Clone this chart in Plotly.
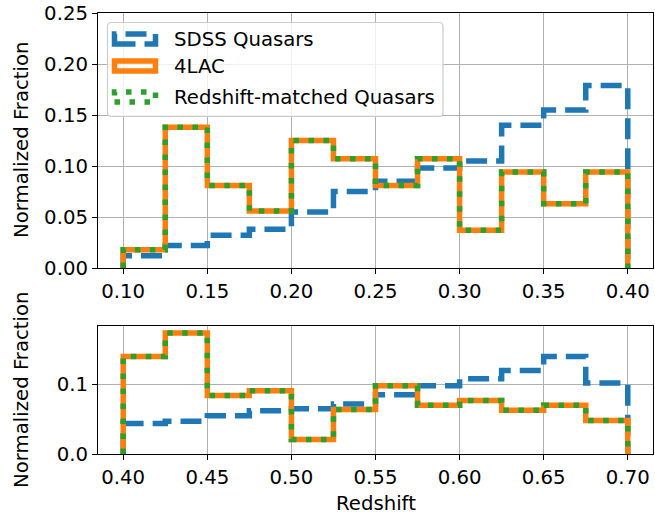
import plotly.graph_objects as go

# ---- data: normalized redshift histograms (bin width 0.025) ----
top_edges = [0.100, 0.125, 0.150, 0.175, 0.200, 0.225, 0.250,
             0.275, 0.300, 0.325, 0.350, 0.375, 0.400]
top_sdss = [0.012, 0.022, 0.032, 0.038, 0.055, 0.075,
            0.085, 0.098, 0.105, 0.140, 0.155, 0.179]
top_4lac = [0.018, 0.138, 0.081, 0.056, 0.125, 0.107,
            0.081, 0.107, 0.037, 0.094, 0.063, 0.094]
top_matched = [0.018, 0.138, 0.081, 0.056, 0.125, 0.107,
               0.081, 0.107, 0.037, 0.094, 0.063, 0.094]

bottom_edges = [0.400, 0.425, 0.450, 0.475, 0.500, 0.525, 0.550,
                0.575, 0.600, 0.625, 0.650, 0.675, 0.700]
bottom_sdss = [0.044, 0.047, 0.055, 0.062, 0.065, 0.072,
               0.085, 0.098, 0.108, 0.120, 0.140, 0.102]
bottom_4lac = [0.140, 0.174, 0.084, 0.091, 0.021, 0.064,
               0.098, 0.070, 0.077, 0.063, 0.070, 0.048]
bottom_matched = [0.140, 0.174, 0.084, 0.091, 0.021, 0.064,
                  0.098, 0.070, 0.077, 0.063, 0.070, 0.048]

top_xticks = [0.10, 0.15, 0.20, 0.25, 0.30, 0.35, 0.40]
top_yticks = [0.00, 0.05, 0.10, 0.15, 0.20, 0.25]
bottom_xticks = [0.40, 0.45, 0.50, 0.55, 0.60, 0.65, 0.70]
bottom_yticks = [0.0, 0.1]

series_names = ["SDSS Quasars", "4LAC", "Redshift-matched Quasars"]

# ---- styling ----
FONT = "DejaVu Sans"
FS = 19.7
BLUE, ORANGE, GREEN = "#1f77b4", "#ff7f0e", "#2ca02c"
LW = 5.5
STYLES = [
    dict(color=BLUE, width=LW, dash="21px,9px"),
    dict(color=ORANGE, width=LW, dash="solid"),
    dict(color=GREEN, width=LW, dash="5.5px,9.5px"),
]

W_FIG, H_FIG = 655, 514
L, R, T, B = 98, 2, 13, 60
PW = W_FIG - L - R
PH = H_FIG - T - B


def px_x(px):
    return (px - L) / PW


def px_y(py):
    return (H_FIG - B - py) / PH


def step_xy(edges, vals):
    """Outline of a step histogram starting and ending at zero."""
    xs = [edges[0]] + list(edges[:-1]) + [edges[-1], edges[-1]]
    ys = [0] + list(vals) + [vals[-1], 0]
    return xs, ys


fig = go.Figure()

panels = [
    ("x", "y", top_edges, [top_sdss, top_4lac, top_matched]),
    ("x2", "y2", bottom_edges, [bottom_sdss, bottom_4lac, bottom_matched]),
]
for xa, ya, edges, series in panels:
    for name, vals, style in zip(series_names, series, STYLES):
        xs, ys = step_xy(edges, vals)
        fig.add_trace(go.Scatter(
            x=xs, y=ys, mode="lines", line_shape="hv", line=style,
            name=name, showlegend=False, xaxis=xa, yaxis=ya,
            hoverinfo="skip",
        ))

axis_common = dict(
    showline=True, mirror=True, linecolor="black", linewidth=1.2,
    ticks="outside", ticklen=5, tickwidth=1.2, tickcolor="black",
    showgrid=True, gridcolor="#b0b0b0", gridwidth=1.1,
    zeroline=False,
    tickfont=dict(family=FONT, size=FS, color="black"),
)

top_dom = [px_y(268), 1.0]
bot_dom = [0.0, px_y(326)]

fig.update_layout(
    width=W_FIG, height=H_FIG,
    margin=dict(l=L, r=R, t=T, b=B),
    paper_bgcolor="white", plot_bgcolor="white",
    font=dict(family=FONT, size=FS, color="black"),
    xaxis=dict(axis_common, domain=[0, 1], range=[0.085, 0.415],
               tickvals=top_xticks, ticktext=[f"{v:.2f}" for v in top_xticks],
               anchor="y"),
    yaxis=dict(axis_common, domain=top_dom, range=[0, 0.25],
               tickvals=top_yticks, ticktext=[f"{v:.2f}" for v in top_yticks],
               anchor="x"),
    xaxis2=dict(axis_common, domain=[0, 1], range=[0.385, 0.715],
                tickvals=bottom_xticks,
                ticktext=[f"{v:.2f}" for v in bottom_xticks],
                anchor="y2"),
    yaxis2=dict(axis_common, domain=bot_dom, range=[0, 0.184],
                tickvals=bottom_yticks,
                ticktext=[f"{v:.1f}" for v in bottom_yticks],
                anchor="x2"),
)

# ---- axis titles ----
title_font = dict(family=FONT, size=FS, color="black")
fig.add_annotation(text="Normalized Fraction", textangle=-90,
                   x=px_x(21), y=px_y(140), xref="paper", yref="paper",
                   showarrow=False, font=title_font,
                   xanchor="center", yanchor="middle")
fig.add_annotation(text="Normalized Fraction", textangle=-90,
                   x=px_x(21), y=px_y(390), xref="paper", yref="paper",
                   showarrow=False, font=title_font,
                   xanchor="center", yanchor="middle")
fig.add_annotation(text="Redshift", x=0.5, y=px_y(503),
                   xref="paper", yref="paper", showarrow=False,
                   font=title_font, xanchor="center", yanchor="middle")

# ---- legend box with outlined patch samples ----
def rounded_rect(x0, y0, x1, y1, r):
    pts = [
        f"M{px_x(x0 + r)},{px_y(y0)}",
        f"L{px_x(x1 - r)},{px_y(y0)}",
        f"Q{px_x(x1)},{px_y(y0)} {px_x(x1)},{px_y(y0 + r)}",
        f"L{px_x(x1)},{px_y(y1 - r)}",
        f"Q{px_x(x1)},{px_y(y1)} {px_x(x1 - r)},{px_y(y1)}",
        f"L{px_x(x0 + r)},{px_y(y1)}",
        f"Q{px_x(x0)},{px_y(y1)} {px_x(x0)},{px_y(y1 - r)}",
        f"L{px_x(x0)},{px_y(y0 + r)}",
        f"Q{px_x(x0)},{px_y(y0)} {px_x(x0 + r)},{px_y(y0)}",
        "Z",
    ]
    return " ".join(pts)


fig.add_shape(type="path", path=rounded_rect(107.5, 22.5, 443, 116.5, 4),
              xref="paper", yref="paper", layer="above",
              line=dict(color="#cccccc", width=1.2),
              fillcolor="rgba(255,255,255,0.8)")

row_centers = [39, 66, 97]
for name, style, cy in zip(series_names, STYLES, row_centers):
    x0, x1 = 114.5, 155.5
    y0, y1 = cy - 5, cy + 5
    path = (f"M{px_x(x0)},{px_y(y1)} L{px_x(x1)},{px_y(y1)} "
            f"L{px_x(x1)},{px_y(y0)} L{px_x(x0)},{px_y(y0)} Z")
    fig.add_shape(type="path", path=path, xref="paper", yref="paper",
                  layer="above", line=style)
    fig.add_annotation(text=name, x=px_x(172), y=px_y(cy),
                       xref="paper", yref="paper", showarrow=False,
                       xanchor="left", yanchor="middle",
                       font=title_font)

fig.write_html("out.html")
